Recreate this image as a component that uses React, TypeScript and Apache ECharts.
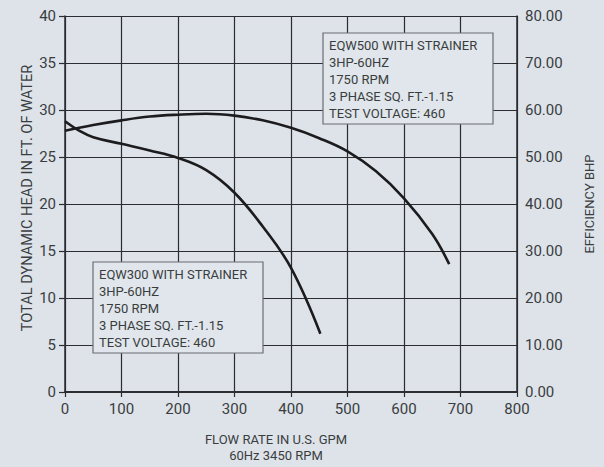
import React, { useEffect, useRef } from "react";
import * as echarts from "echarts";

const flowTicks = [0, 100, 200, 300, 400, 500, 600, 700, 800];
const eqw500: [number, number][] = [
  [0, 27.8], [50, 28.4], [100, 28.9], [150, 29.3], [200, 29.5], [250, 29.6],
  [300, 29.4], [350, 28.9], [400, 28.1], [450, 27.0], [500, 25.6], [550, 23.5],
  [600, 20.6], [650, 16.8], [680, 13.6],
];
const eqw300: [number, number][] = [
  [0, 28.8], [25, 27.8], [50, 27.1], [100, 26.4], [150, 25.7], [200, 24.9],
  [250, 23.6], [300, 21.2], [350, 17.6], [400, 13.2], [452, 6.2],
];
const box500Lines = ["EQW500 WITH STRAINER", "3HP-60HZ", "1750 RPM", "3 PHASE SQ. FT.-1.15", "TEST VOLTAGE: 460"];
const box300Lines = ["EQW300 WITH STRAINER", "3HP-60HZ", "1750 RPM", "3 PHASE SQ. FT.-1.15", "TEST VOLTAGE: 460"];

const FONT = "Roboto, 'Noto Sans', sans-serif";
const TXT = "#3a3d40";
const LINE = "#2b2d30";

export default function App() {
  const ref = useRef<HTMLDivElement>(null);
  useEffect(() => {
    const chart = echarts.init(ref.current!, undefined, { renderer: "svg" });
    const box = (x: number, y: number, lines: string[]) => ({
      type: "group",
      x,
      y,
      z: 100,
      children: [
        { type: "rect", z: 100, shape: { x: 0, y: 0, width: 170, height: 91 }, style: { fill: "#e0e6eb", stroke: "#6a6d70", lineWidth: 1.2 } },
        {
          type: "text",
          z: 101,
          x: 6,
          y: 4,
          style: { text: lines.join("\n"), font: `13px ${FONT}`, fill: TXT, lineHeight: 17 },
        },
      ],
    });
    chart.setOption({
      animation: false,
      backgroundColor: "#dde3e9",
      grid: { left: 65, top: 16, right: 83, bottom: 75 },
      xAxis: {
        type: "value",
        min: flowTicks[0],
        max: flowTicks[flowTicks.length - 1],
        interval: 100,
        axisLine: { show: true, lineStyle: { color: LINE, width: 2 } },
        axisTick: { show: true, length: 5, lineStyle: { color: LINE, width: 1.2 } },
        axisLabel: { color: TXT, fontSize: 15, fontFamily: FONT, margin: 9 },
        splitLine: { show: true, lineStyle: { color: LINE, width: 1.2 } },
      },
      yAxis: [
        {
          type: "value",
          min: 0,
          max: 40,
          interval: 5,
          axisLine: { show: true, lineStyle: { color: LINE, width: 1.5 } },
          axisTick: { show: true, length: 6, lineStyle: { color: LINE, width: 1.2 } },
          axisLabel: { color: TXT, fontSize: 15, fontFamily: FONT, margin: 9 },
          splitLine: { show: true, lineStyle: { color: LINE, width: 1.2 } },
        },
        {
          type: "value",
          min: 0,
          max: 80,
          interval: 10,
          position: "right",
          name: "EFFICIENCY BHP",
          nameLocation: "middle",
          nameGap: 66,
          nameRotate: 90,
          nameTextStyle: { color: TXT, fontSize: 13, fontFamily: FONT },
          axisLine: { show: true, lineStyle: { color: LINE, width: 1.5 } },
          axisTick: { show: false },
          axisLabel: { color: TXT, fontSize: 15, fontFamily: FONT, margin: 8, formatter: (v: number) => v.toFixed(2) },
          splitLine: { show: false },
        },
      ],
      series: [
        {
          name: "EQW500",
          type: "line",
          data: eqw500,
          smooth: 0.4,
          symbol: "none",
          lineStyle: { color: "#1c1c1e", width: 2.6 },
        },
        {
          name: "EQW300",
          type: "line",
          data: eqw300,
          smooth: 0.4,
          symbol: "none",
          lineStyle: { color: "#1c1c1e", width: 2.6 },
        },
      ],
      graphic: [
        box(323, 33, box500Lines),
        box(93, 262, box300Lines),
        {
          type: "text",
          x: 27,
          y: 198,
          rotation: Math.PI / 2,
          style: {
            text: "TOTAL DYNAMIC HEAD IN FT. OF WATER",
            font: `14.6px ${FONT}`,
            fill: TXT,
            align: "center",
            verticalAlign: "middle",
          },
        },
        {
          type: "text",
          x: 276,
          y: 431,
          style: {
            text: "FLOW RATE IN U.S. GPM\n60Hz 3450 RPM",
            font: `13px ${FONT}`,
            fill: TXT,
            align: "center",
            lineHeight: 16,
          },
        },
      ],
    });
    return () => chart.dispose();
  }, []);
  return <div ref={ref} style={{ position: "fixed", left: 0, top: 0, width: 604, height: 467 }} />;
}
